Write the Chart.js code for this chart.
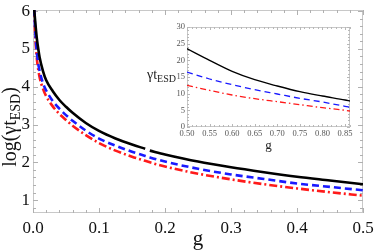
<!DOCTYPE html>
<html><head><meta charset="utf-8">
<script src="https://cdn.jsdelivr.net/npm/chart.js@4/dist/chart.umd.min.js"></script>
<style>
html,body{margin:0;padding:0;background:#fff;overflow:hidden}
#wrap{position:relative;width:374px;height:251px}
canvas{position:absolute}
</style></head>
<body><div id="wrap">
<canvas id="main" width="374" height="251" style="left:0;top:0;width:374px;height:251px"></canvas>
<canvas id="inset" width="240" height="145" style="left:125px;top:12px;width:240px;height:145px"></canvas>
</div>
<script>
// ---- main plot data: log(gamma t_ESD) vs g ----
const mainG     = [0.0018,0.004,0.006,0.008,0.01,0.015,0.02,0.03,0.04,0.05,0.06,0.08,0.1,0.125,0.15,0.17,0.1735,0.177,0.2,0.25,0.3,0.35,0.4,0.45,0.5];
const mainBlack = [6.05,5.6,5.25,5.0,4.78,4.42,4.17,3.88,3.65,3.47,3.31,3.04,2.83,2.63,2.47,2.36,null,2.31,2.21,2.02,1.87,1.74,1.62,1.52,1.42];
const mainBlue  = [6.05,5.3,4.88,4.6,4.42,4.1,3.9,3.62,3.42,3.25,3.1,2.84,2.63,2.44,2.28,2.17,2.15,2.13,2.02,1.83,1.68,1.56,1.44,1.35,1.26];
const mainRed   = [6.05,5.15,4.72,4.45,4.25,3.95,3.75,3.48,3.28,3.12,2.97,2.72,2.51,2.31,2.15,2.04,2.02,2.0,1.89,1.7,1.55,1.42,1.31,1.21,1.12];
const mainXTicks = [0,0.1,0.2,0.3,0.4,0.5];
const mainYTicks = [1,2,3,4,5,6];

// ---- inset data: gamma t_ESD vs g ----
const insetG     = [0.5,0.55,0.6,0.65,0.7,0.75,0.8,0.85,0.861];
const insetBlack = [23.5,20.0,16.7,14.2,12.3,10.6,9.3,8.1,7.8];
const insetBlue  = [16.5,14.4,12.7,11.2,9.9,8.6,7.5,6.2,5.9];
const insetRed   = [12.5,11.0,9.6,8.5,7.6,6.7,5.8,5.0,4.8];
const insetXTicks = [0.5,0.55,0.6,0.65,0.7,0.75,0.8,0.85];
const insetYTicks = [0,5,10,15,20,25,30];

const SERIF = '"Liberation Serif","DejaVu Serif",serif';

function pts(xs, ys){ return xs.map((x,i)=>({x:x,y:ys[i]})); }

const framePlugin = {
  id:'frame',
  beforeDatasetsDraw(chart){
    const o = chart.options.plugins.frame; if(!o) return;
    const ctx = chart.ctx, a = chart.chartArea, xs = chart.scales.x, ys = chart.scales.y;
    ctx.save();
    ctx.strokeStyle = o.color; ctx.lineWidth = 1;
    ctx.strokeRect(a.left+0.5, a.top+0.5, a.right-a.left-1, a.bottom-a.top-1);
    ctx.strokeStyle = o.tickColor;
    ctx.beginPath();
    function mk(scale, step, len, horiz){
      const s = Math.ceil(scale.min/step-1e-6)*step;
      for(let v=s; v<=scale.max+1e-9; v+=step){
        const p = Math.round(scale.getPixelForValue(v))+0.5;
        if(horiz){
          ctx.moveTo(p,a.bottom); ctx.lineTo(p,a.bottom-len);
          ctx.moveTo(p,a.top); ctx.lineTo(p,a.top+len);
        } else {
          ctx.moveTo(a.left,p); ctx.lineTo(a.left+len,p);
          ctx.moveTo(a.right,p); ctx.lineTo(a.right-len,p);
        }
      }
    }
    mk(xs, o.xMinor, o.minor, true);
    mk(ys, o.yMinor, o.minor, false);
    xs.ticks.forEach(t=>{const p=Math.round(xs.getPixelForValue(t.value))+0.5;
      ctx.moveTo(p,a.bottom); ctx.lineTo(p,a.bottom-o.major); ctx.moveTo(p,a.top); ctx.lineTo(p,a.top+o.major);});
    ys.ticks.forEach(t=>{const p=Math.round(ys.getPixelForValue(t.value))+0.5;
      ctx.moveTo(a.left,p); ctx.lineTo(a.left+o.major,p); ctx.moveTo(a.right,p); ctx.lineTo(a.right-o.major,p);});
    ctx.stroke();
    ctx.restore();
  }
};

const labelPlugin = {
  id:'labels',
  afterDraw(chart){
    const o = chart.options.plugins.labels; if(!o) return;
    const ctx = chart.ctx, a = chart.chartArea;
    ctx.save();
    ctx.fillStyle = o.color;
    ctx.font = o.xFont + 'px ' + SERIF;
    ctx.textAlign = 'center'; ctx.textBaseline = 'alphabetic';
    ctx.fillText('g', (a.left+a.right)/2, o.xBase);
    const main = o.yMain, sub = 'ESD', tail = o.yTail;
    ctx.textAlign = 'left';
    const f1 = o.yFont + 'px ' + SERIF, f2 = o.ySub + 'px ' + SERIF;
    ctx.font = f1; const w1 = ctx.measureText(main).width, w3 = ctx.measureText(tail).width;
    ctx.font = f2; const w2 = ctx.measureText(sub).width;
    const tot = w1+w2+w3;
    ctx.translate(o.yX, o.yY);
    if(o.rotate) ctx.rotate(-Math.PI/2);
    let x0 = o.rotate ? -tot/2 : 0;
    ctx.font = f1; ctx.fillText(main, x0, 0);
    ctx.font = f2; ctx.fillText(sub, x0+w1, o.subDrop);
    ctx.font = f1; ctx.fillText(tail, x0+w1+w2, 0);
    ctx.restore();
  }
};

function fitY(w){ return function(s){ s.width = w; s.paddingTop=0; s.paddingBottom=0; }; }
function fitX(h){ return function(s){ s.height = h; s.paddingLeft=0; s.paddingRight=0; }; }
function setTicks(arr){ return function(s){ s.ticks = arr.map(v=>({value:v})); }; }

new Chart(document.getElementById('main'), {
  type:'line',
  data:{ datasets:[
    {data:pts(mainG,mainBlack), borderColor:'#000', borderWidth:2.6, pointRadius:0, cubicInterpolationMode:'monotone', spanGaps:false, clip:0},
    {data:pts(mainG,mainBlue), borderColor:'#1a1aff', borderWidth:2.6, borderDash:[7,4], pointRadius:0, cubicInterpolationMode:'monotone', clip:0},
    {data:pts(mainG,mainRed), borderColor:'#ff1a1a', borderWidth:2.6, borderDash:[8,3,2,3], pointRadius:0, cubicInterpolationMode:'monotone', clip:0}
  ]},
  options:{
    responsive:false, animation:false, events:[],
    layout:{padding:{left:0,right:11,top:10,bottom:0}},
    plugins:{ legend:{display:false}, tooltip:{enabled:false},
      frame:{color:'#c8c8c8', tickColor:'#b0b0b0', major:5, minor:3, xMinor:0.02, yMinor:0.2},
      labels:{color:'#111', xFont:21, xBase:245, yFont:20, ySub:14, yMain:'log(\u03B3t', yTail:')', yX:16, yY:127, rotate:true, subDrop:4}
    },
    scales:{
      x:{type:'linear', min:0, max:0.5, afterFit:fitX(38), afterBuildTicks:setTicks(mainXTicks),
        grid:{display:false, drawTicks:false}, border:{display:false},
        ticks:{padding:5, color:'#111', font:{family:SERIF, size:17}, maxRotation:0, callback:v=>v.toFixed(1)}},
      y:{type:'linear', min:0.66, max:6.03, afterFit:fitY(33), afterBuildTicks:setTicks(mainYTicks),
        grid:{display:false, drawTicks:false}, border:{display:false},
        ticks:{padding:3, color:'#111', font:{family:SERIF, size:17}, callback:v=>String(v)}}
    }
  },
  plugins:[framePlugin, labelPlugin]
});

new Chart(document.getElementById('inset'), {
  type:'line',
  data:{ datasets:[
    {data:pts(insetG,insetBlack), borderColor:'#000', borderWidth:1.3, pointRadius:0, cubicInterpolationMode:'monotone', clip:0},
    {data:pts(insetG,insetBlue), borderColor:'#1a1aff', borderWidth:1.3, borderDash:[6,4], pointRadius:0, cubicInterpolationMode:'monotone', clip:0},
    {data:pts(insetG,insetRed), borderColor:'#ff1a1a', borderWidth:1.3, borderDash:[6,3,1.5,3], pointRadius:0, cubicInterpolationMode:'monotone', clip:0}
  ]},
  options:{
    responsive:false, animation:false, events:[],
    layout:{padding:{left:0,right:15,top:15,bottom:0}},
    plugins:{ legend:{display:false}, tooltip:{enabled:false},
      frame:{color:'#c8c8c8', tickColor:'#b8b8b8', major:3, minor:2, xMinor:0.01, yMinor:1},
      labels:{color:'#222', xFont:13, xBase:137, yFont:14, ySub:10, yMain:'\u03B3t', yTail:'', yX:22, yY:67, rotate:false, subDrop:3}
    },
    scales:{
      x:{type:'linear', min:0.5, max:0.861, afterFit:fitX(30), afterBuildTicks:setTicks(insetXTicks),
        grid:{display:false, drawTicks:false}, border:{display:false},
        ticks:{padding:2, color:'#555', font:{family:SERIF, size:8.5}, maxRotation:0, autoSkip:false, callback:v=>v.toFixed(2)}},
      y:{type:'linear', min:0, max:30, afterFit:fitY(62), afterBuildTicks:setTicks(insetYTicks),
        grid:{display:false, drawTicks:false}, border:{display:false},
        ticks:{padding:2, color:'#555', font:{family:SERIF, size:8.5}, callback:v=>String(v)}}
    }
  },
  plugins:[framePlugin, labelPlugin]
});
</script>
</body></html>
